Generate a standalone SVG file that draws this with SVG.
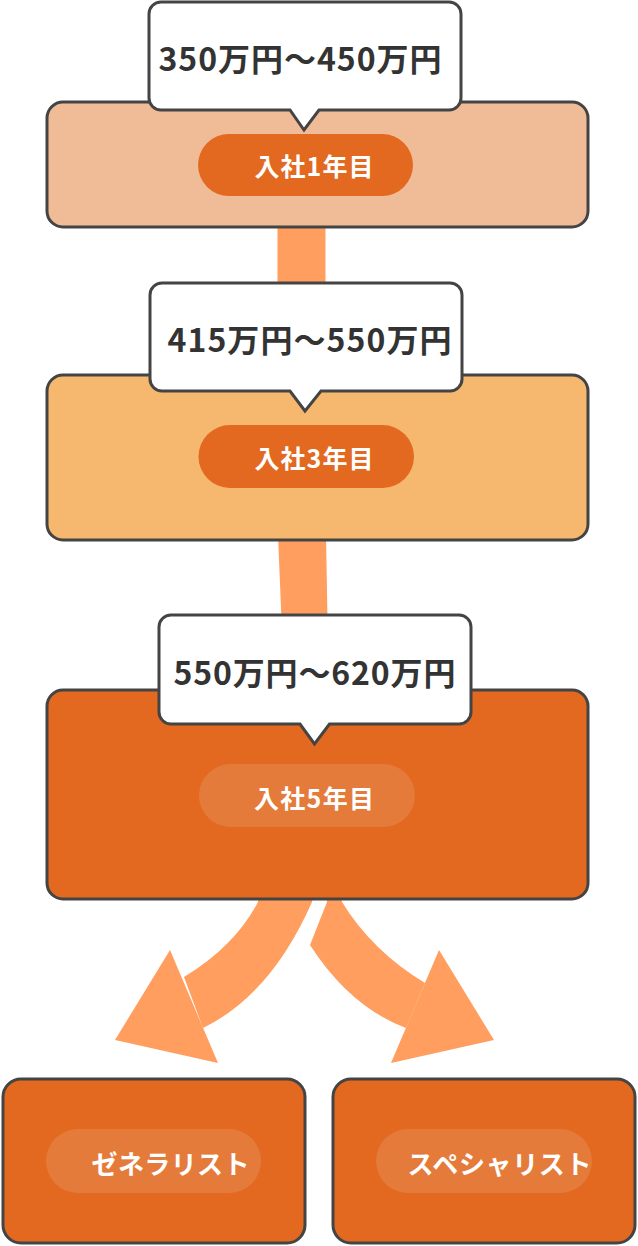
<svg xmlns="http://www.w3.org/2000/svg" width="638" height="1246" viewBox="0 0 638 1246">
<style>
.box{stroke:#444;stroke-width:3}
.call{fill:#fff;stroke:#444;stroke-width:3;stroke-linejoin:miter}
.ct{font-family:"Noto Sans CJK JP","Noto Sans",sans-serif;font-weight:700;font-size:32px;fill:#333;text-anchor:middle;dominant-baseline:central}
.pt{font-family:"Noto Sans CJK JP","Noto Sans",sans-serif;font-weight:700;font-size:25px;fill:#fff;text-anchor:middle;dominant-baseline:central}
.bt{font-size:26px}
.conn{fill:#FF9E5E}
.pill{fill:#E2691F}
.pillL{fill:#fff;fill-opacity:0.12}
</style>
<g id="connectors">
<polygon class="conn" points="277.5,220 325.5,220 325.5,290 277.5,290"/>
<polygon class="conn" points="278,535 326,535 327.5,620 281.5,620"/>
<path class="conn" d="M258,896 L258,902 Q235,946 184,977 L203,1028 Q271,995 312,902 L313,896 Z"/>
<polygon class="conn" points="170,950 115,1040 218,1063"/>
<path class="conn" d="M327,896 L327,902 L310,945 Q350,1007 406,1028 L425,983 Q372,951 342,902 L341,896 Z"/>
<polygon class="conn" points="439,950 494,1040 391,1063"/>
</g>
<g id="stage1">
<rect class="box" x="47" y="102" width="541" height="125" rx="16" fill="#F0BB97"/>
<rect class="pill" x="198" y="134" width="215" height="62" rx="31"/>
<text class="pt" x="314" y="165" textLength="119" lengthAdjust="spacing">入社1年目</text>
</g>
<g id="callout1">
<path class="call" d="M161,2 H449 A12,12 0 0 1 461,14 V98 A12,12 0 0 1 449,110 H319 L304,130 L290,110 H161 A12,12 0 0 1 149,98 V14 A12,12 0 0 1 161,2 Z"/>
<text class="ct" x="300" y="56.5" textLength="283" lengthAdjust="spacing">350万円～450万円</text>
</g>
<g id="stage2">
<rect class="box" x="47" y="375" width="541" height="165" rx="16" fill="#F5B86E"/>
<rect class="pill" x="198.5" y="425" width="215.5" height="63" rx="31.5"/>
<text class="pt" x="314" y="457" textLength="119" lengthAdjust="spacing">入社3年目</text>
</g>
<g id="callout2">
<path class="call" d="M162,283 H450 A12,12 0 0 1 462,295 V379 A12,12 0 0 1 450,391 H321 L305,411 L290,391 H162 A12,12 0 0 1 150,379 V295 A12,12 0 0 1 162,283 Z"/>
<text class="ct" x="309.5" y="338" textLength="284" lengthAdjust="spacing">415万円～550万円</text>
</g>
<g id="stage3">
<rect class="box" x="47" y="690" width="541" height="209" rx="16" fill="#E2691F"/>
<rect class="pillL" x="199" y="764" width="216" height="63" rx="31.5"/>
<text class="pt" x="314" y="797" textLength="120" lengthAdjust="spacing">入社5年目</text>
</g>
<g id="callout3">
<path class="call" d="M171,615 H459 A12,12 0 0 1 471,627 V712 A12,12 0 0 1 459,724 H329.5 L314.5,744 L300,724 H171 A12,12 0 0 1 159,712 V627 A12,12 0 0 1 171,615 Z"/>
<text class="ct" x="314.5" y="671" textLength="282" lengthAdjust="spacing">550万円～620万円</text>
</g>
<g id="generalist">
<rect class="box" x="3" y="1079" width="302" height="164" rx="18" fill="#E2691F"/>
<rect class="pillL" x="46" y="1129" width="215" height="64" rx="32"/>
<text class="pt bt" x="170.5" y="1162" textLength="158" lengthAdjust="spacing">ゼネラリスト</text>
</g>
<g id="specialist">
<rect class="box" x="333" y="1079" width="302" height="164" rx="18" fill="#E2691F"/>
<rect class="pillL" x="376" y="1129" width="216" height="64" rx="32"/>
<text class="pt bt" x="499.5" y="1162" textLength="184" lengthAdjust="spacing">スペシャリスト</text>
</g>
</svg>
